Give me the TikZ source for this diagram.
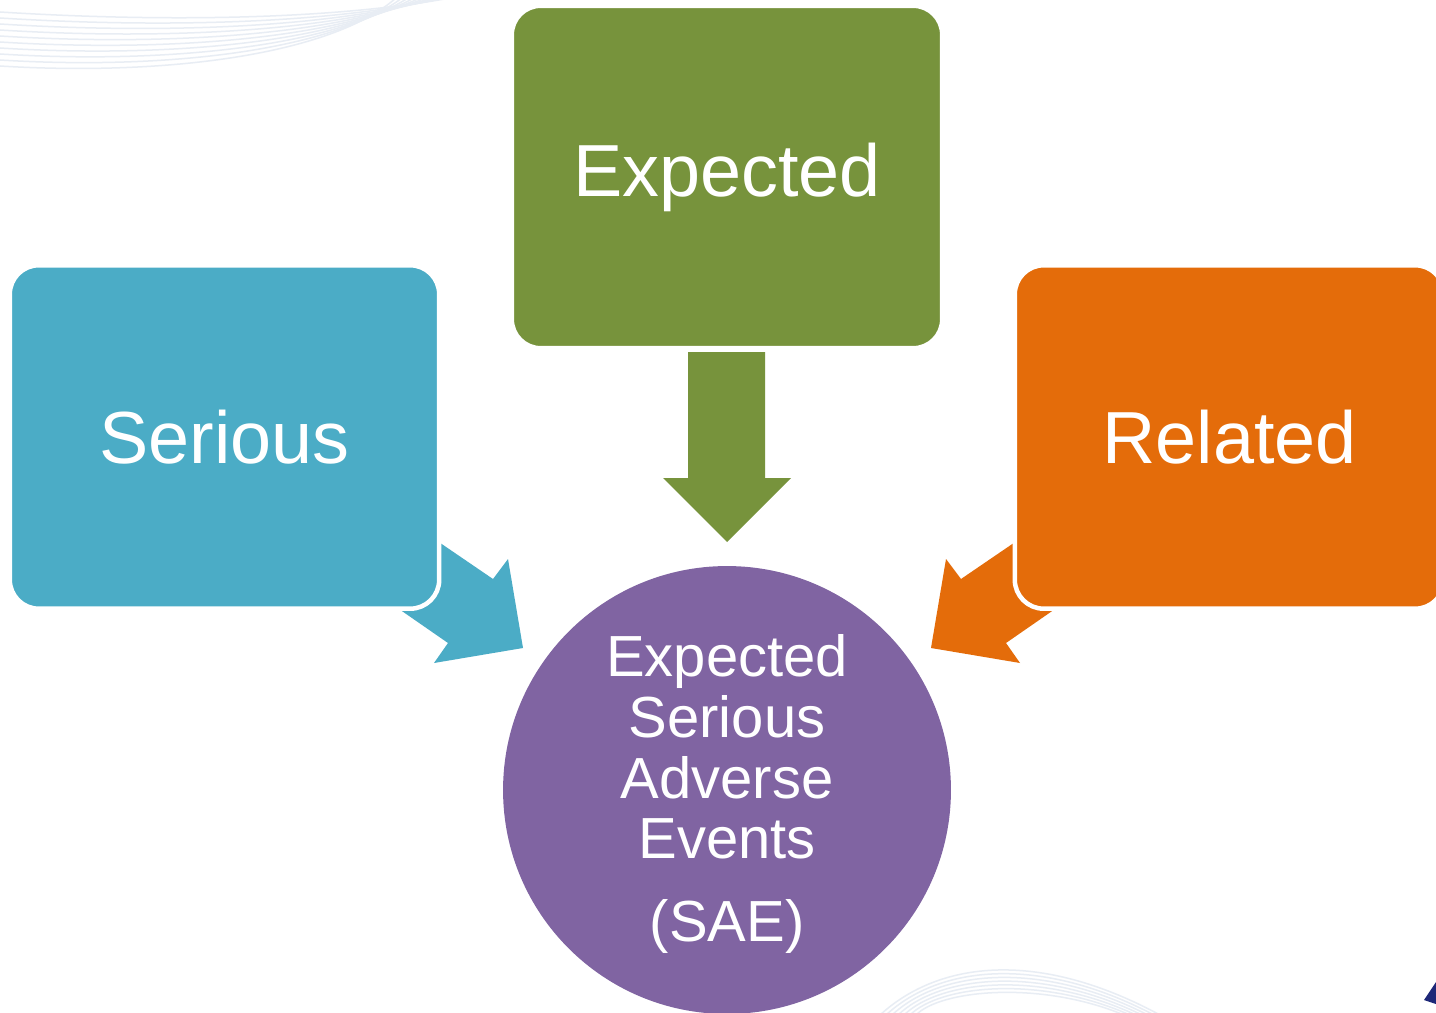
\documentclass[tikz,border=0pt]{standalone}
\usepackage{fontspec}
\setmainfont{Liberation Sans}
\definecolor{cgreen}{RGB}{119,147,60}
\definecolor{cblue}{RGB}{75,172,198}
\definecolor{corange}{RGB}{228,108,10}
\definecolor{cpurple}{RGB}{128,100,162}
\definecolor{cswoosh}{RGB}{232,237,244}
\definecolor{cnavy}{RGB}{30,40,120}
\tikzset{
  box/.style={rectangle, rounded corners=0.58cm, draw=white, line width=0.09cm,
    minimum width=8.59cm, minimum height=6.87cm, text=white, inner sep=0pt,
    font=\fontsize{42}{48}\selectfont},
  swoosh/.style={draw=cswoosh, line width=0.03cm},
}
\begin{document}
\begin{tikzpicture}[x=0.02cm,y=-0.02cm]
\useasboundingbox (0,0) rectangle (1436,1013);
\fill[white] (0,0) rectangle (1436,1013);
% faint background swooshes
\foreach \i in {0,...,9}{
  \draw[swoosh] (0,12+6*\i) .. controls (160,22+6*\i) and (330,20+4*\i) .. (450-6*\i,-2);
}
\foreach \i in {0,...,6}{
  \draw[swoosh] (880+6*\i,1015) .. controls (940,960+5*\i) and (1040,950+5*\i) .. (1160-6*\i,1015);
}
\fill[cnavy] (1436,982) -- (1424,1000) -- (1436,1004) -- cycle;
% block arrows (drawn first, partly under the boxes)
\fill[cgreen] (688,352) -- (765,352) -- (765,478) -- (791,478) -- (727,542)
  -- (663,478) -- (688,478) -- cycle;
\fill[cblue] (408,521) -- (493,579) -- (508,559) -- (523,648) -- (434,663)
  -- (448,643) -- (373,591) -- cycle;
\fill[corange] (1046,521) -- (961,579) -- (946,559) -- (931,648) -- (1020,663)
  -- (1006,643) -- (1081,591) -- cycle;
% boxes
\node[box, fill=cgreen, minimum width=8.61cm, minimum height=6.85cm] (expected) at (727,177) {Expected};
\node[box, fill=cblue] (serious) at (224.5,437) {Serious};
\node[box, fill=corange] (related) at (1229.5,437) {Related};
% circle
\node[circle, fill=cpurple, minimum size=8.96cm, inner sep=0pt] (sae) at (727,790) {};
\node[text=white, align=center, inner sep=0pt,
  font=\fontsize{33}{34.7}\selectfont] (saetext) at (727,794)
  {Expected\\Serious\\Adverse\\Events\\[12.5pt](SAE)};
\end{tikzpicture}
\end{document}
